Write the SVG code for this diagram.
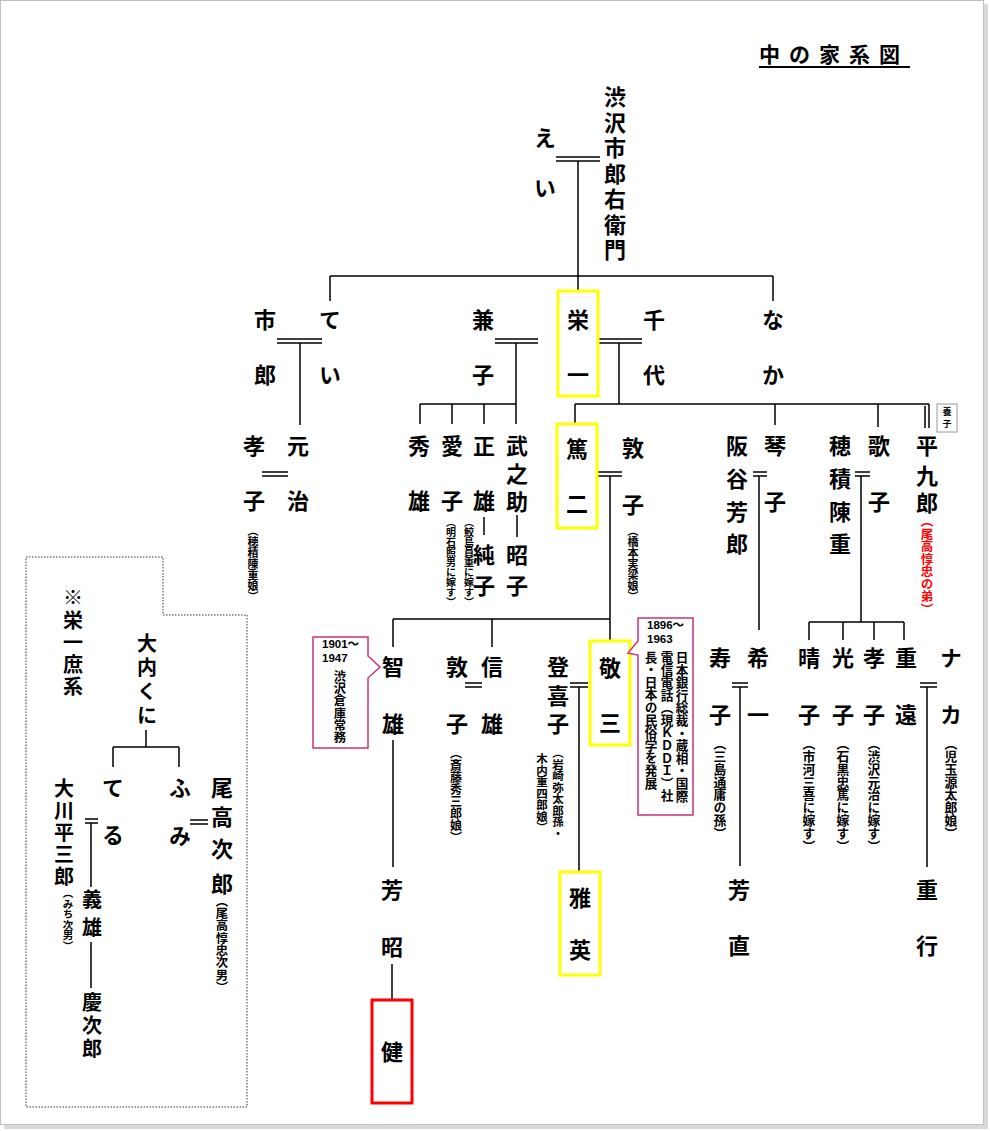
<svg xmlns="http://www.w3.org/2000/svg" width="990" height="1131" viewBox="0 0 990 1131">
<style>
.v{font-family:"Noto Sans CJK JP","Noto Sans CJK SC",sans-serif;font-weight:bold;font-size:22px;writing-mode:vertical-rl;fill:#000}
.m{font-size:20px}
.s{font-family:"Noto Sans CJK JP","Noto Sans CJK SC",sans-serif;font-weight:bold;font-size:21px;dominant-baseline:central;fill:#000}
.a{font-family:"Noto Sans CJK JP","Noto Sans CJK SC",sans-serif;font-weight:bold;font-size:12px;writing-mode:vertical-rl;fill:#000}
.h{font-family:"Liberation Sans","Noto Sans CJK JP",sans-serif;font-weight:bold;font-size:11.5px;dominant-baseline:central;fill:#000}
.c{stroke:#000;stroke-width:1.5;fill:none}
.yb{fill:#fff;stroke:#ffff00;stroke-width:3}
.rb{fill:#fff;stroke:#ff0000;stroke-width:3}
.co{fill:#fff;stroke:#c8327a;stroke-width:1.5}
</style>
<rect x="4" y="4" width="984" height="1125" fill="#d9d9d9"/>
<rect x="0.5" y="0.5" width="983" height="1124" fill="#fff" stroke="#bfbfbf"/>

<g id="title">
<text class="s" x="759" y="53" style="letter-spacing:9px">中の家系図</text>
<line x1="759" y1="67" x2="910" y2="67" stroke="#000" stroke-width="2"/>
</g>

<g id="connectors" class="c">
<path d="M556 157H600M556 161H600M578 161V291M330 276H773M330 276V301M773 276V301"/>
<path d="M277 339H322M277 343H322M300 343V425"/>
<path d="M495 339H538M495 343H538M516 343V424M420 404H516M420 404V424M452 404V424M484 404V424"/>
<path d="M598 339H642M598 343H642M619 343V404M575 404H929M929 404V428M925 406V428M575 404V424M775 404V425M878 404V427"/>
<path d="M262 472H288M262 476H288"/>
<path d="M484 517V535M517 515V537"/>
<path d="M597 472H622M597 476H622M610 476V641M393 619H610M393 619V647M492 619V647"/>
<path d="M753 472H767M753 476H767M759 476V630"/>
<path d="M855 472H870M855 476H870M861 476V622M809 622H904M809 622V640M843 622V640M874 622V640M904 622V640"/>
<path d="M465 683H482M465 687H482"/>
<path d="M570 683H588M570 687H588M579 687V872"/>
<path d="M732 683H748M732 687H748M740 687V866"/>
<path d="M920 683H937M920 687H937M927 687V867"/>
<path d="M393 740V867M392 964V1000"/>
<path d="M146 730V747M113 747H179M113 747V767M179 747V767"/>
<path d="M190 820H208M190 824H208"/>
<path d="M85 819H98M85 823H98M91 823V887M91 942V988"/>
</g>

<g id="n-shibusawa"><text class="v"><tspan x="615" y="86">渋</tspan><tspan x="615" y="111.5">沢</tspan><tspan x="615" y="137">市</tspan><tspan x="615" y="162.5">郎</tspan><tspan x="615" y="188">右</tspan><tspan x="615" y="213.5">衛</tspan><tspan x="615" y="239">門</tspan></text></g>
<g id="n-ei"><text class="v"><tspan x="545" y="127">え</tspan><tspan x="545" y="177">い</tspan></text></g>

<g id="n-ichiro"><text class="v"><tspan x="265" y="309">市</tspan><tspan x="265" y="364">郎</tspan></text></g>
<g id="n-tei"><text class="v"><tspan x="330" y="309">て</tspan><tspan x="330" y="364">い</tspan></text></g>
<g id="n-kaneko"><text class="v"><tspan x="483" y="309">兼</tspan><tspan x="483" y="364">子</tspan></text></g>
<g id="n-eiichi"><rect class="yb" x="558" y="291" width="40" height="105"/><text class="v"><tspan x="578" y="309">栄</tspan><tspan x="578" y="364">一</tspan></text></g>
<g id="n-chiyo"><text class="v"><tspan x="654" y="309">千</tspan><tspan x="654" y="364">代</tspan></text></g>
<g id="n-naka"><text class="v"><tspan x="773" y="309">な</tspan><tspan x="773" y="364">か</tspan></text></g>

<g id="n-takako"><text class="v"><tspan x="254" y="435">孝</tspan><tspan x="254" y="490">子</tspan></text><text class="a" x="253" y="525" style="font-size:11px">（穂積陳重娘）</text></g>
<g id="n-motoharu"><text class="v"><tspan x="298" y="435">元</tspan><tspan x="298" y="490">治</tspan></text></g>
<g id="n-hideo"><text class="v"><tspan x="419" y="435">秀</tspan><tspan x="419" y="490">雄</tspan></text></g>
<g id="n-aiko"><text class="v"><tspan x="452" y="435">愛</tspan><tspan x="452" y="490">子</tspan></text><text class="a" x="451" y="517" style="font-size:10px">（明石照男に嫁す）</text></g>
<g id="n-masao"><text class="v"><tspan x="484" y="435">正</tspan><tspan x="484" y="490">雄</tspan></text><text class="a" x="469" y="517" style="font-size:10px">（鮫島員重に嫁す）</text></g>
<g id="n-takenosuke"><text class="v"><tspan x="517" y="435">武</tspan><tspan x="517" y="463">之</tspan><tspan x="517" y="491">助</tspan></text></g>
<g id="n-junko"><text class="v"><tspan x="484" y="544">純</tspan><tspan x="484" y="575">子</tspan></text></g>
<g id="n-akiko"><text class="v"><tspan x="517" y="544">昭</tspan><tspan x="517" y="575">子</tspan></text></g>
<g id="n-tokuji"><rect class="yb" x="557" y="424" width="40" height="104"/><text class="v"><tspan x="577" y="438">篤</tspan><tspan x="577" y="493">二</tspan></text></g>
<g id="n-atsuko1"><text class="v"><tspan x="633" y="437">敦</tspan><tspan x="633" y="494">子</tspan></text><text class="a" x="633" y="525" style="font-size:11px">（橋本実梁娘）</text></g>
<g id="n-sakatani"><text class="v"><tspan x="737" y="435">阪</tspan><tspan x="737" y="468">谷</tspan><tspan x="737" y="501">芳</tspan><tspan x="737" y="533">郎</tspan></text></g>
<g id="n-kotoko"><text class="v"><tspan x="775" y="435">琴</tspan><tspan x="775" y="491">子</tspan></text></g>
<g id="n-hozumi"><text class="v"><tspan x="840" y="435">穂</tspan><tspan x="840" y="468">積</tspan><tspan x="840" y="501">陳</tspan><tspan x="840" y="533">重</tspan></text></g>
<g id="n-utako"><text class="v"><tspan x="879" y="435">歌</tspan><tspan x="879" y="491">子</tspan></text></g>
<g id="n-heikuro"><text class="v"><tspan x="927" y="435">平</tspan><tspan x="927" y="465">九</tspan><tspan x="927" y="492">郎</tspan></text><text class="a" x="927" y="515" style="font-size:12.5px;fill:#ff0000">（尾高惇忠の弟）</text>
<rect x="937" y="404" width="20" height="28" fill="#fff" stroke="#999" stroke-width="1"/><text class="v" style="font-size:9px"><tspan x="947" y="407.5">養</tspan><tspan x="947" y="419.5">子</tspan></text></g>

<g id="n-tomoo"><text class="v"><tspan x="393" y="656">智</tspan><tspan x="393" y="713">雄</tspan></text>
<path class="co" d="M313 637H368V656L380 667L368 678V748H313Z"/>
<text class="h" x="322" y="644">1901～</text><text class="h" x="322" y="658">1947</text>
<text class="a" x="340" y="670" style="font-size:12.3px">渋沢倉庫常務</text></g>
<g id="n-atsuko2"><text class="v"><tspan x="457" y="656">敦</tspan><tspan x="457" y="713">子</tspan></text><text class="a" x="456" y="747" style="font-size:12px">（斎藤秀三郎娘）</text></g>
<g id="n-nobuo"><text class="v"><tspan x="492" y="656">信</tspan><tspan x="492" y="713">雄</tspan></text></g>
<g id="n-tokiko"><text class="v"><tspan x="558" y="656">登</tspan><tspan x="558" y="685">喜</tspan><tspan x="558" y="713">子</tspan></text>
<text class="a" style="font-size:11.5px"><tspan x="558" y="747">（岩崎弥太郎孫・</tspan><tspan x="542" y="753">木内重四郎娘）</tspan></text></g>
<g id="n-keizo"><rect class="yb" x="590" y="641" width="40" height="104"/><text class="v"><tspan x="610" y="657">敬</tspan><tspan x="610" y="712">三</tspan></text>
<path class="co" d="M638 618H693V815H638V655L628 653L638 641Z"/>
<text class="h" x="647" y="625">1896～</text><text class="h" x="647" y="639">1963</text>
<text class="a" style="font-size:12.6px"><tspan x="682" y="651">日本銀行総裁・蔵相・国際</tspan><tspan x="667" y="651">電信電話（現ＫＤＤＩ）社</tspan><tspan x="651" y="651">長・日本の民俗学を発展</tspan></text></g>
<g id="n-hisako"><text class="v"><tspan x="720" y="647">寿</tspan><tspan x="720" y="704">子</tspan></text><text class="a" x="720" y="737" style="font-size:12.8px">（三島通庸の孫）</text></g>
<g id="n-kiichi"><text class="v"><tspan x="758" y="647">希</tspan><tspan x="758" y="704">一</tspan></text></g>
<g id="n-haruko"><text class="v"><tspan x="809" y="647">晴</tspan><tspan x="809" y="704">子</tspan></text><text class="a" x="809" y="737" style="font-size:12.8px">（市河三喜に嫁す）</text></g>
<g id="n-mitsuko"><text class="v"><tspan x="843" y="647">光</tspan><tspan x="843" y="704">子</tspan></text><text class="a" x="843" y="737" style="font-size:12.8px">（石黒忠篤に嫁す）</text></g>
<g id="n-takako2"><text class="v"><tspan x="874" y="647">孝</tspan><tspan x="874" y="704">子</tspan></text><text class="a" x="874" y="737" style="font-size:12.8px">（渋沢元治に嫁す）</text></g>
<g id="n-shigeto"><text class="v"><tspan x="906" y="647">重</tspan><tspan x="906" y="704">遠</tspan></text></g>
<g id="n-naka2"><text class="v"><tspan x="951" y="647">ナ</tspan><tspan x="951" y="704">カ</tspan></text><text class="a" x="951" y="737" style="font-size:12.8px">（児玉源太郎娘）</text></g>

<g id="n-yoshiaki"><text class="v"><tspan x="392" y="879">芳</tspan><tspan x="392" y="936">昭</tspan></text></g>
<g id="n-masahide"><rect class="yb" x="560" y="872" width="40" height="103"/><text class="v"><tspan x="580" y="887">雅</tspan><tspan x="580" y="939">英</tspan></text></g>
<g id="n-yoshinao"><text class="v"><tspan x="739" y="879">芳</tspan><tspan x="739" y="935">直</tspan></text></g>
<g id="n-shigeyuki"><text class="v"><tspan x="927" y="879">重</tspan><tspan x="927" y="935">行</tspan></text></g>
<g id="n-ken"><rect class="rb" x="372" y="1000" width="40" height="103"/><text class="v" x="392" y="1041">健</text></g>

<g id="side-box">
<path d="M26 557H163V615H247V1107H26Z" fill="none" stroke="#333" stroke-width="1" stroke-dasharray="1.5 1.5"/>
</g>
<g id="n-shokei"><text class="v m"><tspan x="73" y="587">※</tspan><tspan x="73" y="610">栄</tspan><tspan x="73" y="632">一</tspan><tspan x="73" y="654">庶</tspan><tspan x="73" y="676">系</tspan></text></g>
<g id="n-kuni"><text class="v m"><tspan x="147" y="633">大</tspan><tspan x="147" y="657">内</tspan><tspan x="147" y="681">く</tspan><tspan x="147" y="705">に</tspan></text></g>
<g id="n-teru"><text class="v"><tspan x="113" y="777">て</tspan><tspan x="113" y="824">る</tspan></text></g>
<g id="n-fumi"><text class="v"><tspan x="180" y="777">ふ</tspan><tspan x="180" y="825">み</tspan></text></g>
<g id="n-odaka"><text class="v"><tspan x="222" y="777">尾</tspan><tspan x="222" y="806">高</tspan><tspan x="222" y="838">次</tspan><tspan x="222" y="873">郎</tspan></text><text class="a" x="222" y="895" style="font-size:12.3px">（尾高惇忠次男）</text></g>
<g id="n-okawa"><text class="v m"><tspan x="64" y="778">大</tspan><tspan x="64" y="800">川</tspan><tspan x="64" y="822">平</tspan><tspan x="64" y="844">三</tspan><tspan x="64" y="866">郎</tspan></text><text class="a" x="68" y="888" style="font-size:10.5px">（みち次男）</text></g>
<g id="n-yoshio"><text class="v m"><tspan x="92" y="889">義</tspan><tspan x="92" y="917">雄</tspan></text></g>
<g id="n-keijiro"><text class="v m"><tspan x="92" y="992">慶</tspan><tspan x="92" y="1015">次</tspan><tspan x="92" y="1038">郎</tspan></text></g>
</svg>
